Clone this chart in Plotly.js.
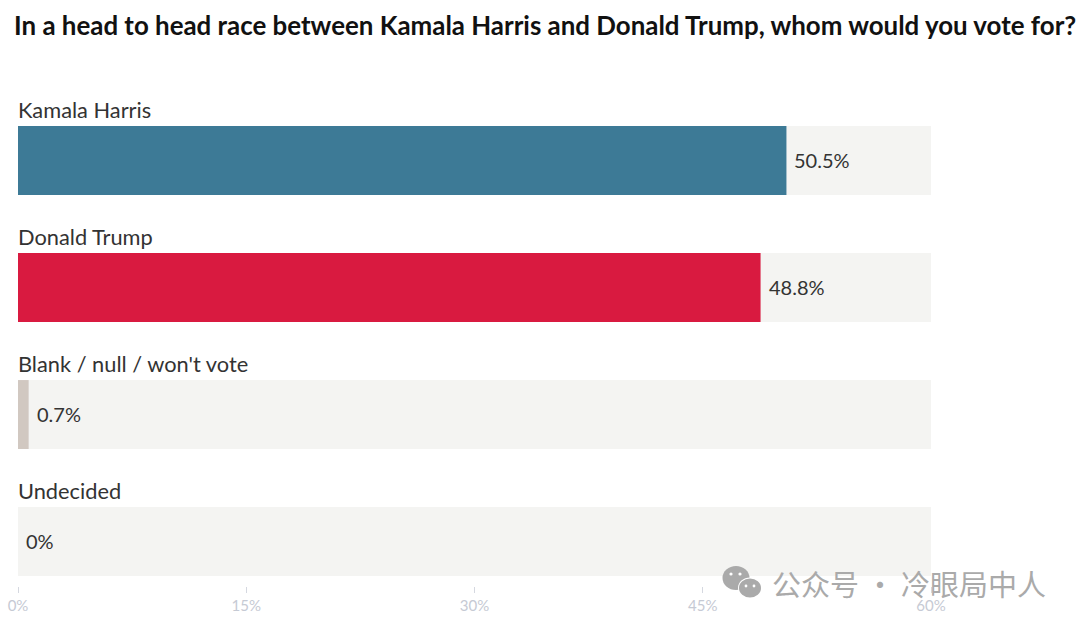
<!DOCTYPE html>
<html><head><meta charset="utf-8">
<script src="https://cdn.plot.ly/plotly-3.0.1.min.js"></script>
<style>html,body{margin:0;padding:0;background:#fff}</style></head>
<body><div id="chart" style="width:1080px;height:627px"></div>
<script>
const categories = ["Kamala Harris","Donald Trump","Blank / null / won't vote","Undecided"];
const values = [50.5,48.8,0.7,0];
const valueLabels = ["50.5%","48.8%","0.7%","0%"];
const barColors = ["#3d7a96","#d91a40","#d1c8c1","#d1c8c1"];
const trackMax = [60,60,60,60];
const tickValues = [0,15,30,45,60];
const tickLabels = ["0%","15%","30%","45%","60%"];
const titleText = "In a head to head race between Kamala Harris and Donald Trump, whom would you vote for?";
const watermark = "公众号 · 冷眼局中人";

const W=1080,H=627,L=18,R=149,T=97,B=41;
const px=x=>(x-L)/(W-L-R), py=y=>1-(y-T)/(H-T-B);
const circle=(cx,cy,rx,ry,c)=>({type:'circle',xref:'paper',yref:'paper',x0:px(cx-rx),x1:px(cx+rx),y0:py(cy+ry),y1:py(cy-ry),fillcolor:c,line:{width:0},layer:'above'});
const icon=[
 circle(736,578,13.5,12,'#aaaaaa'),
 circle(750,588,12,10.5,'#ffffff'),
 circle(750,588,11,9.5,'#aaaaaa'),
 circle(731,574,1.6,1.6,'#ffffff'),circle(740,574,1.6,1.6,'#ffffff'),
 circle(746,586,1.4,1.4,'#ffffff'),circle(754,586,1.4,1.4,'#ffffff')
];
const base={type:'bar',orientation:'h',y:categories,width:0.543,hoverinfo:'skip'};
const traces=[
 Object.assign({},base,{x:trackMax,marker:{color:'#f4f4f2',line:{width:0}}}),
 Object.assign({},base,{x:values,marker:{color:barColors,line:{width:0}}})
];
const font='Lato, "Open Sans", sans-serif';
const annotations=[];
categories.forEach((c,i)=>{
 annotations.push({xref:'x',yref:'y',x:0,y:c,text:c,showarrow:false,xanchor:'left',yanchor:'bottom',yshift:36,xshift:-2,
  font:{family:font,size:21.8,color:'#333333'}});
 annotations.push({xref:'x',yref:'y',x:values[i],y:c,text:valueLabels[i],showarrow:false,xanchor:'left',yanchor:'middle',xshift:6,yshift:1,
  font:{family:font,size:20,color:'#333333'}});
});
annotations.push({xref:'paper',yref:'paper',x:px(772),y:py(583),text:watermark,showarrow:false,xanchor:'left',yanchor:'middle',xshift:-2,
 font:{family:'"Noto Sans CJK SC", sans-serif',size:29,color:'#aaaaaa'}});
Plotly.newPlot('chart',traces,{
 width:W,height:H,showlegend:false,barmode:'overlay',
 paper_bgcolor:'#fff',plot_bgcolor:'#fff',
 margin:{l:L,r:R,t:T,b:B,pad:0},
 title:{text:'<b>'+titleText+'</b>',x:14/W,xanchor:'left',y:1-26/H,yanchor:'middle',font:{family:font,size:25.9,color:'#111111'}},
 xaxis:{range:[0,60],tickmode:'array',tickvals:tickValues,ticktext:tickLabels,showgrid:false,zeroline:false,showline:false,
  ticks:'outside',ticklen:6,tickwidth:1,tickcolor:'#d5d8e0',tickfont:{family:font,size:15,color:'#c6cad4'}},
 yaxis:{type:'category',categoryorder:'array',categoryarray:categories,range:[3.35,-0.5],showticklabels:false,showgrid:false,zeroline:false,showline:false,ticks:''},
 annotations:annotations,shapes:icon
},{displayModeBar:false,staticPlot:true});
</script></body></html>
